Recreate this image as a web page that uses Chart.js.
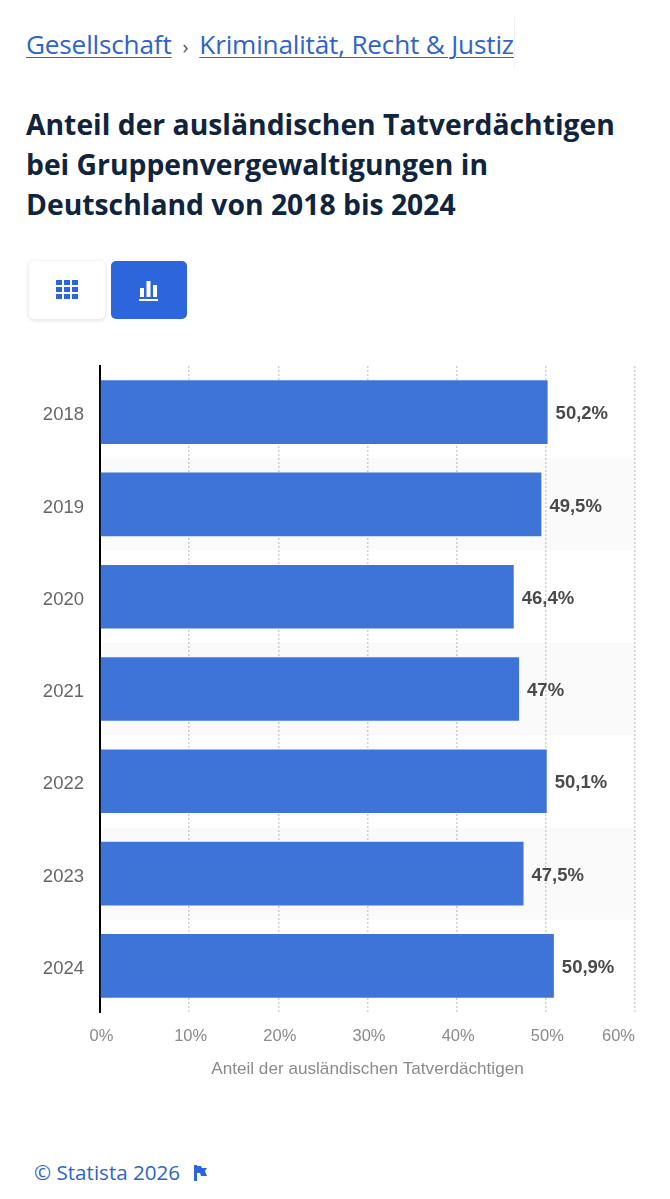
<!DOCTYPE html>
<html lang="de">
<head>
  <meta charset="UTF-8">
  <title>Anteil der ausländischen Tatverdächtigen</title>
  <script src="https://cdn.jsdelivr.net/npm/chart.js"></script>
  <style>
    html, body { margin: 0; padding: 0; background: #fff; }
    body { width: 670px; height: 1199px; position: relative; overflow: hidden; font-family: "Open Sans", sans-serif; }
    .crumbs { position: absolute; left: 26px; top: 26px; font-size: 26.2px; line-height: 36px; color: #2f64c9; white-space: nowrap; letter-spacing: -0.2px; }
    .crumbs a { color: #2f64c9; text-decoration: underline; text-underline-offset: 3px; text-decoration-thickness: 1px; }
    .crumbs span { margin: 0 6px; color: #555; font-size: 20px; }
    .edge { position: absolute; left: 514px; top: 17px; width: 1px; height: 52px; background: #f0f0f0; }
    h1 { position: absolute; left: 26px; top: 104px; margin: 0; font-size: 28.3px; line-height: 40px; font-weight: 700; color: #10243e; white-space: nowrap; }
    .btn { position: absolute; top: 261px; width: 76px; height: 58px; border-radius: 5px; }
    .btn svg { position: absolute; left: 27px; top: 18px; }
    .btn-table { left: 29px; background: #fff; box-shadow: 0 1px 5px rgba(0,0,0,.14); }
    .btn-chart { left: 111px; background: #2c65dc; }
    canvas { position: absolute; left: 0; top: 350px; }
    .footer { position: absolute; left: 34px; top: 1158px; font-size: 20.6px; line-height: 28px; color: #2f64c9; white-space: nowrap; }
    .footer svg { position: absolute; left: 159px; top: 6px; }
  </style>
</head>
<body>
  <div class="crumbs"><a href="#">Gesellschaft</a><span> › </span><a href="#">Kriminalität, Recht &amp; Justiz</a></div>
  <div class="edge"></div>
  <h1>Anteil der ausländischen Tatverdächtigen<br>bei Gruppenvergewaltigungen in<br>Deutschland von 2018 bis 2024</h1>
  <div class="btn btn-table">
    <svg width="22" height="22" viewBox="0 0 22 22" fill="#2c65dc">
      <rect x="0" y="1" width="6" height="5"/><rect x="8" y="1" width="6" height="5"/><rect x="16" y="1" width="6" height="5"/>
      <rect x="0" y="8" width="6" height="5"/><rect x="8" y="8" width="6" height="5"/><rect x="16" y="8" width="6" height="5"/>
      <rect x="0" y="15" width="6" height="5"/><rect x="8" y="15" width="6" height="5"/><rect x="16" y="15" width="6" height="5"/>
    </svg>
  </div>
  <div class="btn btn-chart">
    <svg width="22" height="24" viewBox="0 0 22 24" fill="#fff">
      <rect x="2" y="9" width="4" height="9"/><rect x="8.5" y="2" width="4" height="16"/><rect x="15" y="6" width="4" height="12"/>
      <rect x="1" y="20" width="19" height="2"/>
    </svg>
  </div>
  <canvas id="myChart" width="670" height="730"></canvas>
  <div class="footer">© Statista 2026
    <svg width="14" height="18" viewBox="0 0 14 18" fill="#2c65dc"><path d="M1 1h3v16H1zM4 2h4l1 2h5l-2 3 2 5H8L7 9H4z"/></svg>
  </div>
  <script>
const years = ['2018', '2019', '2020', '2021', '2022', '2023', '2024'];
const shares = [50.2, 49.5, 46.4, 47, 50.1, 47.5, 50.9];
const shareLabels = ['50,2%', '49,5%', '46,4%', '47%', '50,1%', '47,5%', '50,9%'];
const xTicks = [0, 10, 20, 30, 40, 50, 60];

// every second row gets a light grey stripe behind the grid
const stripes = {
  id: 'stripes',
  beforeDatasetsDraw(chart) {
    const { ctx, chartArea, scales } = chart;
    const band = scales.y.getPixelForValue(1) - scales.y.getPixelForValue(0);
    ctx.save();
    ctx.fillStyle = 'rgba(0,0,0,0.02)';
    years.forEach((y, i) => {
      if (i % 2 === 1) {
        ctx.fillRect(chartArea.left, scales.y.getPixelForValue(i) - band / 2, chartArea.right - chartArea.left, band);
      }
    });
    ctx.restore();
  }
};

// value labels next to the bars and x tick labels (last one is right aligned)
const labels = {
  id: 'labels',
  afterDatasetsDraw(chart) {
    const { ctx, scales } = chart;
    ctx.save();
    ctx.font = 'bold 18.5px "Liberation Sans"';
    ctx.fillStyle = '#4a4a4a';
    ctx.textAlign = 'left';
    ctx.textBaseline = 'middle';
    chart.getDatasetMeta(0).data.forEach((bar, i) => {
      ctx.fillText(shareLabels[i], bar.x + 8, bar.y + 2);
    });
    ctx.font = '16.5px "Liberation Sans"';
    ctx.fillStyle = '#8a8a8a';
    xTicks.forEach((t, i) => {
      const x = scales.x.getPixelForValue(t);
      ctx.textAlign = i === xTicks.length - 1 ? 'right' : 'center';
      ctx.fillText(t + '%', i === xTicks.length - 1 ? x : x + 1.5, 686);
    });
    ctx.restore();
  }
};

new Chart(document.getElementById('myChart').getContext('2d'), {
  type: 'bar',
  data: {
    labels: years,
    datasets: [{
      data: shares,
      backgroundColor: '#3e73d8',
      barPercentage: 0.69,
      categoryPercentage: 1
    }]
  },
  plugins: [stripes, labels],
  options: {
    indexAxis: 'y',
    responsive: false,
    animation: false,
    layout: { padding: { top: 16, right: 35, left: 0, bottom: 0 } },
    plugins: { legend: { display: false }, tooltip: { enabled: false } },
    scales: {
      x: {
        min: 0,
        max: 60,
        afterFit(scale) { scale.height = 68; },
        ticks: { display: false, stepSize: 10 },
        grid: { color: '#d0d0d0', lineWidth: 1.5, drawTicks: false },
        border: { display: false, dash: [2, 2] },
        title: {
          display: true,
          text: 'Anteil der ausländischen Tatverdächtigen',
          color: '#8a8a8a',
          font: { family: '"Liberation Sans"', size: 17.15 },
          padding: 0
        }
      },
      y: {
        afterFit(scale) {
          scale.width = 100;
          scale.paddingTop = 0;
          scale.paddingBottom = 0;
        },
        ticks: { color: '#666666', font: { family: '"Liberation Sans"', size: 18.5 }, padding: 16, labelOffset: 3 },
        grid: { display: false, drawTicks: false },
        border: { display: true, color: '#000000', width: 2 }
      }
    }
  }
});
  </script>
</body>
</html>
